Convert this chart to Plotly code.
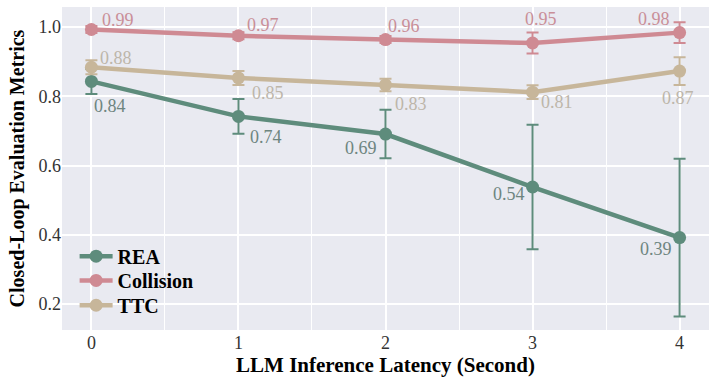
import plotly.graph_objects as go

latency = [0, 1, 2, 3, 4]

rea_mean = [0.843, 0.742, 0.691, 0.538, 0.392]
rea_err = [0.036, 0.050, 0.070, 0.180, 0.228]

col_mean = [0.993, 0.975, 0.964, 0.954, 0.984]
col_err = [0.010, 0.010, 0.010, 0.030, 0.030]

ttc_mean = [0.884, 0.853, 0.833, 0.812, 0.873]
ttc_err = [0.020, 0.020, 0.018, 0.020, 0.040]

rea_labels = ["0.84", "0.74", "0.69", "0.54", "0.39"]
col_labels = ["0.99", "0.97", "0.96", "0.95", "0.98"]
ttc_labels = ["0.88", "0.85", "0.83", "0.81", "0.87"]

# label offsets in pixels (dx right, dy down) -- styling only
rea_off = [(19, 25), (28, 21), (-25, 14), (-24, 7), (-24, 11)]
col_off = [(27, -10), (25, -11), (18, -14), (8, -24), (-26, -14)]
ttc_off = [(25, -9), (30, 15), (25, 19), (24, 10), (-2, 27)]

C_REA = "#5E8C7C"
C_COL = "#CF8A93"
C_TTC = "#C7B69A"

FONT = "Liberation Serif"

fig = go.Figure()

def add(name, y, err, labels, offs, color, tcolor, legend):
    fig.add_trace(go.Scatter(
        x=latency, y=y, name=name, legend=legend,
        mode="lines+markers",
        line=dict(color=color, width=4.5),
        marker=dict(color=color, size=13),
        error_y=dict(type="data", array=err, visible=True,
                     color=color, thickness=2, width=6),
    ))
    for xv, yv, t, (dx, dy) in zip(latency, y, labels, offs):
        fig.add_annotation(x=xv, y=yv, text=t, showarrow=False,
                           xanchor="center", yanchor="middle",
                           xshift=dx, yshift=-dy,
                           font=dict(family=FONT, size=18, color=tcolor))

add("REA", rea_mean, rea_err, rea_labels, rea_off, C_REA, "#6E8580", "legend")
add("Collision", col_mean, col_err, col_labels, col_off, C_COL, "#C98F98", "legend2")
add("TTC", ttc_mean, ttc_err, ttc_labels, ttc_off, C_TTC, "#BDB6AA", "legend3")

leg_common = dict(
    x=0.0195, xanchor="left", yanchor="top", itemwidth=33,
    bgcolor="rgba(0,0,0,0)",
    font=dict(family=FONT, size=20, color="black", weight="bold"),
)

fig.update_layout(
    width=711, height=378,
    margin=dict(l=62, r=2, t=7, b=48),
    paper_bgcolor="white",
    plot_bgcolor="#E9EAF1",
    font=dict(family=FONT, size=18, color="#333333"),
    showlegend=True,
    legend=dict(y=0.289, **leg_common),
    legend2=dict(y=0.214, **leg_common),
    legend3=dict(y=0.137, **leg_common),
    xaxis=dict(
        range=[-0.2, 4.2], tickmode="array", tickvals=latency,
        ticktext=[str(v) for v in latency],
        showgrid=True, gridcolor="white", gridwidth=1.5, zeroline=False,
        minor=dict(dtick=0.5, tick0=0, showgrid=True, gridcolor="white", gridwidth=1),
        tickfont=dict(family=FONT, size=18, color="#333333"),
        title=dict(text="<b>LLM Inference Latency (Second)</b>", standoff=0,
                   font=dict(family=FONT, size=21, color="black")),
    ),
    yaxis=dict(
        range=[0.125, 1.058], tickvals=[0.2, 0.4, 0.6, 0.8, 1.0],
        ticktext=["0.2", "0.4", "0.6", "0.8", "1.0"],
        showgrid=True, gridcolor="white", gridwidth=1.5, zeroline=False,
        tickfont=dict(family=FONT, size=18, color="#333333"),
        title=dict(text="<b>Closed-Loop Evaluation Metrics</b>", standoff=8,
                   font=dict(family=FONT, size=20, color="black")),
    ),
)

fig.write_html("out.html", config={"displayModeBar": False},
               post_script="document.body.style.margin='0';")
